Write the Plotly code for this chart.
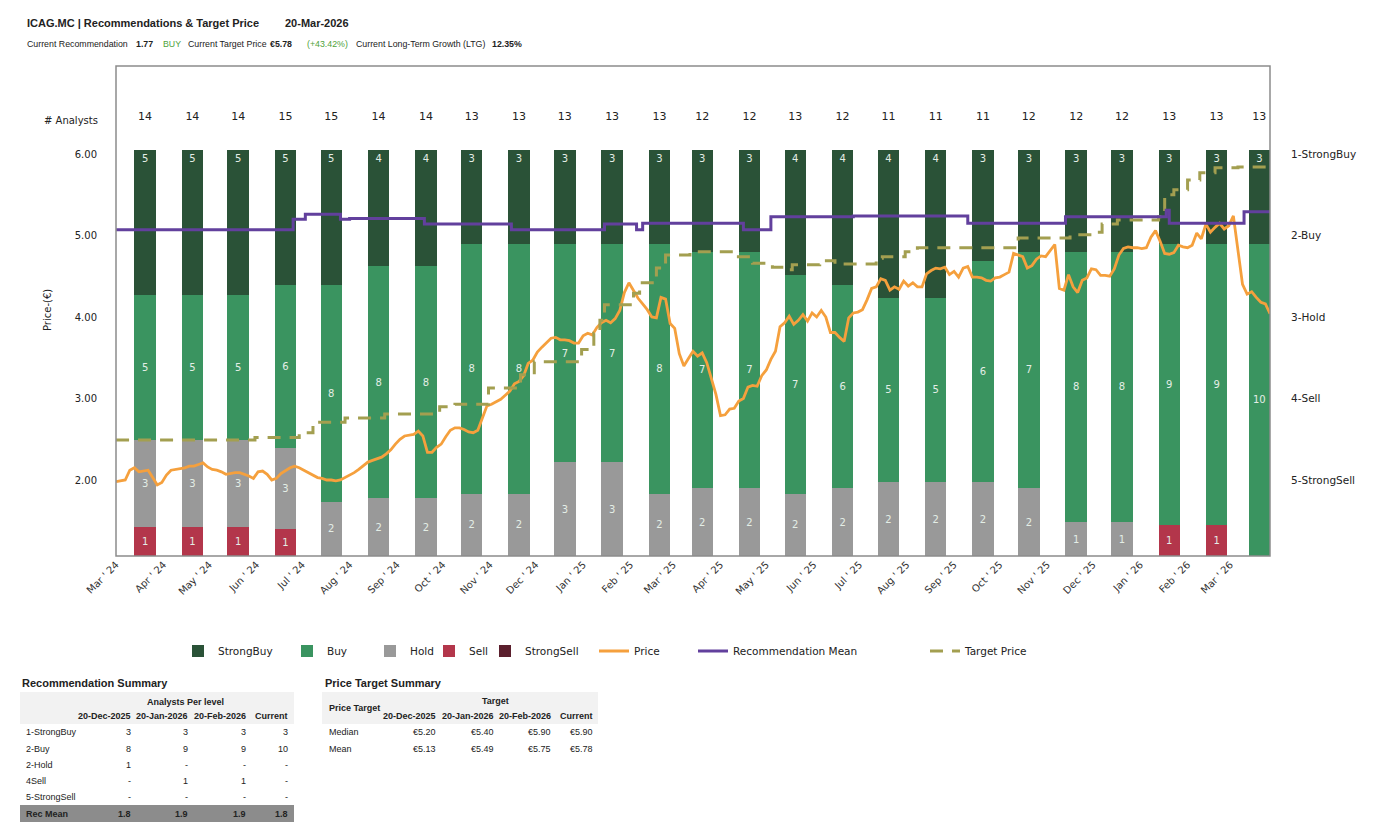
import plotly.graph_objects as go
import pandas as pd

W, H = 1377, 822
CF = "DejaVu Sans"
TF = "Liberation Sans"

# ---------------- data ----------------
bar_dates = [d + pd.Timedelta(days=19) for d in pd.date_range("2024-03-01", periods=25, freq="MS")]
strong_buy = [5, 5, 5, 5, 5, 4, 4, 3, 3, 3, 3, 3, 3, 3, 4, 4, 4, 4, 3, 3, 3, 3, 3, 3, 3]
buy = [5, 5, 5, 6, 8, 8, 8, 8, 8, 7, 7, 8, 7, 7, 7, 6, 5, 5, 6, 7, 8, 8, 9, 9, 10]
hold = [3, 3, 3, 3, 2, 2, 2, 2, 2, 3, 3, 2, 2, 2, 2, 2, 2, 2, 2, 2, 1, 1, 0, 0, 0]
sell = [1, 1, 1, 1, 0, 0, 0, 0, 0, 0, 0, 0, 0, 0, 0, 0, 0, 0, 0, 0, 0, 0, 1, 1, 0]
strong_sell = [0] * 25

price_start = "2024-03-01"
price = [
    1.98, 1.99, 2.00, 2.12, 2.15, 2.10, 2.11, 2.12, 2.03, 1.94,
    1.97, 2.06, 2.12, 2.13, 2.14, 2.15, 2.17, 2.17, 2.19, 2.21,
    2.16, 2.13, 2.12, 2.10, 2.07, 2.08, 2.09, 2.09, 2.07, 2.05,
    2.02, 2.10, 2.11, 2.07, 2.00, 2.02, 2.08, 2.12, 2.15, 2.17,
    2.15, 2.12, 2.09, 2.06, 2.03, 2.02, 2.00, 2.00, 1.99, 2.00,
    2.03, 2.05, 2.09, 2.13, 2.17, 2.22, 2.24, 2.26, 2.28, 2.32,
    2.37, 2.44, 2.50, 2.54, 2.55, 2.56, 2.60, 2.54, 2.34, 2.34,
    2.40, 2.44, 2.53, 2.61, 2.64, 2.64, 2.62, 2.59, 2.58, 2.61,
    2.76, 2.91, 2.93, 2.96, 2.99, 3.04, 3.09, 3.18, 3.21, 3.28,
    3.43, 3.47, 3.57, 3.63, 3.68, 3.74, 3.75, 3.72, 3.72, 3.71,
    3.68, 3.68, 3.77, 3.80, 3.78, 3.87, 3.93, 3.96, 3.93, 3.98,
    4.08, 4.30, 4.42, 4.33, 4.23, 4.16, 4.09, 4.00, 3.99, 4.24,
    4.22, 3.92, 3.86, 3.55, 3.40, 3.49, 3.58, 3.52, 3.56, 3.44,
    3.23, 3.05, 2.79, 2.80, 2.87, 2.88, 2.97, 3.00, 3.14, 3.16,
    3.15, 3.28, 3.35, 3.48, 3.58, 3.88, 3.93, 4.01, 3.91, 3.96,
    4.03, 3.95, 4.05, 4.00, 4.08, 4.00, 3.81, 3.81, 3.75, 3.70,
    3.99, 4.05, 4.06, 4.09, 4.21, 4.35, 4.37, 4.47, 4.45, 4.33,
    4.37, 4.34, 4.44, 4.38, 4.42, 4.37, 4.37, 4.53, 4.57, 4.60,
    4.59, 4.61, 4.52, 4.56, 4.49, 4.60, 4.62, 4.49, 4.49, 4.48,
    4.45, 4.44, 4.48, 4.49, 4.52, 4.55, 4.78, 4.76, 4.74, 4.60,
    4.63, 4.71, 4.75, 4.74, 4.81, 4.89, 4.35, 4.33, 4.52, 4.37,
    4.30, 4.45, 4.48, 4.59, 4.58, 4.51, 4.51, 4.50, 4.59, 4.76,
    4.84, 4.86, 4.85, 4.85, 4.84, 4.85, 4.98, 5.06, 4.93, 4.78,
    4.77, 4.79, 4.88, 4.86, 4.85, 4.88, 5.03, 4.96, 5.14, 5.04,
    5.10, 5.15, 5.08, 5.12, 5.24, 4.84, 4.40, 4.28, 4.31, 4.24,
    4.18, 4.16, 4.04,
]
price_dates = pd.date_range(price_start, periods=len(price), freq="3D")

rec_dates = ["2024-03-01", "2024-06-25", "2024-07-03", "2024-07-26", "2024-08-01",
             "2024-09-19", "2024-11-15", "2025-01-15", "2025-02-05", "2025-02-09",
             "2025-04-16", "2025-05-04", "2025-06-27", "2025-09-10", "2025-11-13",
             "2026-01-18", "2026-01-20", "2026-03-10", "2026-03-27"]
rec_mean = [1.93, 1.80, 1.74, 1.80, 1.79, 1.86, 1.93, 1.86, 1.93, 1.85,
            1.93, 1.77, 1.76, 1.85, 1.77, 1.69, 1.85, 1.71, 1.71]

target_dates = ["2024-03-01", "2024-05-31", "2024-06-29", "2024-07-08", "2024-07-29",
                "2024-08-24", "2024-09-29", "2024-10-09", "2024-10-31", "2024-11-21",
                "2024-11-30", "2024-12-31", "2025-01-08", "2025-01-12", "2025-01-15",
                "2025-02-03", "2025-02-07", "2025-02-18", "2025-02-24", "2025-03-12",
                "2025-04-10", "2025-04-22", "2025-05-05", "2025-05-14", "2025-05-18",
                "2025-06-05", "2025-06-15", "2025-07-12", "2025-07-16", "2025-07-31",
                "2025-08-08", "2025-10-13", "2025-11-16", "2025-11-29", "2025-12-07",
                "2025-12-17", "2026-01-13", "2026-01-17", "2026-01-23", "2026-02-01",
                "2026-02-09", "2026-02-19", "2026-03-06", "2026-03-27"]
target = [2.49, 2.52, 2.58, 2.71, 2.76, 2.81, 2.90, 2.93, 3.13, 3.29,
          3.45, 3.60, 3.80, 3.96, 4.15, 4.29, 4.42, 4.60, 4.76, 4.80,
          4.74, 4.66, 4.61, 4.58, 4.64, 4.69, 4.65, 4.72, 4.74, 4.80,
          4.85, 4.97, 5.01, 5.04, 5.14, 5.19, 5.23, 5.50, 5.56, 5.68,
          5.77, 5.83, 5.84, 5.84]

price_ticks = [2, 3, 4, 5, 6]
rec_levels = ["1-StrongBuy", "2-Buy", "3-Hold", "4-Sell", "5-StrongSell"]

header_title = "ICAG.MC | Recommendations & Target Price"
header_date = "20-Mar-2026"
header_items = [("Current Recommendation", False, "#222222"), ("1.77", True, "#222222"),
                ("BUY", False, "#4fa33a"), ("Current Target Price", False, "#222222"),
                ("€5.78", True, "#222222"), ("(+43.42%)", False, "#4fa33a"),
                ("Current Long-Term Growth (LTG)", False, "#222222"), ("12.35%", True, "#222222")]

rec_tbl_title = "Recommendation Summary"
rec_tbl_group = "Analysts Per level"
tbl_cols = ["20-Dec-2025", "20-Jan-2026", "20-Feb-2026", "Current"]
rec_tbl_rows = ["1-StrongBuy", "2-Buy", "2-Hold", "4Sell", "5-StrongSell"]
rec_tbl_vals = [["3", "3", "3", "3"], ["8", "9", "9", "10"], ["1", "-", "-", "-"],
                ["-", "1", "1", "-"], ["-", "-", "-", "-"]]
rec_tbl_mean_label = "Rec Mean"
rec_tbl_mean = ["1.8", "1.9", "1.9", "1.8"]

pt_tbl_title = "Price Target Summary"
pt_tbl_group = "Target"
pt_tbl_corner = "Price Target"
pt_tbl_rows = ["Median", "Mean"]
pt_tbl_vals = [["€5.20", "€5.40", "€5.90", "€5.90"], ["€5.13", "€5.49", "€5.75", "€5.78"]]

# ---------------- helpers ----------------
def px(x):
    return x / W


def py(y):
    return 1 - y / H


fig = go.Figure()

legend_ids = {"StrongBuy": "legend", "Buy": "legend2", "Hold": "legend3", "Sell": "legend4",
              "StrongSell": "legend5", "Price": "legend6", "Recommendation Mean": "legend7",
              "Target Price": "legend8"}
legend_center = {"StrongBuy": 198, "Buy": 307, "Hold": 390, "Sell": 449, "StrongSell": 505,
                 "Price": 614, "Recommendation Mean": 713, "Target Price": 945}

bar_series = [("StrongSell", strong_sell, "#5b1f2d"), ("Sell", sell, "#b3364b"),
              ("Hold", hold, "#999999"), ("Buy", buy, "#3a9460"), ("StrongBuy", strong_buy, "#2a5237")]
DAY_MS = 86400000
for name, vals, col in bar_series:
    fig.add_trace(go.Bar(
        x=bar_dates, y=vals, name=name,
        marker=dict(color=col, line=dict(width=0)),
        width=[14 * DAY_MS] * len(vals),
        text=[str(v) if v else "" for v in vals],
        textposition="inside",
        insidetextanchor="end" if name == "StrongBuy" else "middle",
        textangle=0,
        textfont=dict(family=CF, size=10, color="#e4eee6"),
        legend=legend_ids[name], hoverinfo="skip",
    ))

totals = [a + b + c + d + e for a, b, c, d, e in zip(strong_buy, buy, hold, sell, strong_sell)]
fig.add_trace(go.Scatter(
    x=bar_dates, y=[108.1] * len(totals), mode="text", text=[str(t) for t in totals],
    textfont=dict(family=CF, size=11, color="#222222"), showlegend=False, hoverinfo="skip",
))

fig.add_trace(go.Scatter(
    x=price_dates, y=price, yaxis="y2", mode="lines", name="Price",
    line=dict(color="#f5a03d", width=2.8), legend=legend_ids["Price"], hoverinfo="skip",
))
fig.add_trace(go.Scatter(
    x=target_dates, y=target, yaxis="y2", mode="lines", name="Target Price",
    line=dict(color="#a39f50", width=3, dash="13px,9px", shape="hv"),
    legend=legend_ids["Target Price"], hoverinfo="skip",
))
fig.add_trace(go.Scatter(
    x=rec_dates, y=rec_mean, yaxis="y3", mode="lines", name="Recommendation Mean",
    line=dict(color="#62409d", width=3, shape="hv"),
    legend=legend_ids["Recommendation Mean"], hoverinfo="skip",
))

# ---------------- layout ----------------
legends = {}
for name, lid in legend_ids.items():
    legends[lid] = dict(x=px(legend_center[name] - 20), xanchor="left", y=py(651), yanchor="middle",
                        orientation="h", bgcolor="rgba(0,0,0,0)", borderwidth=0,
                        font=dict(family=CF, size=10.5, color="#222222"))

fig.update_layout(
    width=W, height=H, autosize=False,
    margin=dict(l=0, r=0, t=0, b=0, autoexpand=False),
    paper_bgcolor="white", plot_bgcolor="white",
    barmode="stack", barnorm="percent",
    xaxis=dict(domain=[px(116), px(1270)], type="date",
               range=["2024-02-29 23:00", "2026-03-27"],
               tick0="2024-03-01", dtick="M1", tickformat="%b ' %y", tickangle=-45,
               showgrid=False, zeroline=False, showline=False, ticks="", automargin=False,
               tickfont=dict(family=CF, size=10, color="#333333")),
    yaxis=dict(domain=[py(556), py(66)], range=[0, 120.69], visible=False,
               showgrid=False, zeroline=False),
    yaxis2=dict(overlaying="y", side="left", range=[1.0675, 7.0798], tickvals=price_ticks,
                tickformat=".2f", showgrid=False, zeroline=False, showline=False, ticks="",
                automargin=False,
                ticklabelstandoff=18, tickfont=dict(family=CF, size=10, color="#222222")),
    yaxis3=dict(overlaying="y", side="right", range=[5.9325, -0.0798], tickvals=[1, 2, 3, 4, 5],
                ticktext=rec_levels, showgrid=False, zeroline=False, showline=False, ticks="",
                automargin=False,
                ticklabelstandoff=20, tickfont=dict(family=CF, size=10.5, color="#222222")),
    showlegend=True,
    **legends,
)

shapes = [dict(type="rect", xref="x domain", yref="y domain", x0=0, x1=1, y0=0, y1=1,
               line=dict(color="#8c8c8c", width=1.5), fillcolor="rgba(0,0,0,0)", layer="above")]
# table bands
shapes.append(dict(type="rect", xref="paper", yref="paper", x0=px(20), x1=px(294), y0=py(724), y1=py(692),
                   line=dict(width=0), fillcolor="#f2f2f2", layer="below"))
shapes.append(dict(type="rect", xref="paper", yref="paper", x0=px(20), x1=px(294), y0=py(822), y1=py(805),
                   line=dict(width=0), fillcolor="#8c8c8c", layer="below"))
shapes.append(dict(type="rect", xref="paper", yref="paper", x0=px(322), x1=px(598), y0=py(724), y1=py(692),
                   line=dict(width=0), fillcolor="#f2f2f2", layer="below"))

ann = []


def txt(x, y, s, size=9, bold=False, color="#222222", xanchor="left", family=TF, angle=0):
    ann.append(dict(x=px(x), y=py(y), xref="paper", yref="paper", text=f"<b>{s}</b>" if bold else s,
                    showarrow=False, xanchor=xanchor, yanchor="middle", textangle=angle,
                    font=dict(family=family, size=size, color=color)))


# header
txt(25, 23, header_title, size=11, bold=True)
txt(283, 23, header_date, size=11, bold=True)
header_x = [25, 134, 161, 186, 268, 305, 354, 490]
for (s, b, c), x in zip(header_items, header_x):
    txt(x, 44, s, size=8.8, bold=b, color=c)

# axis annotations
txt(100, 121, "# Analysts", size=10, xanchor="right", family=CF)
txt(47, 310, "Price-(€)", size=10, xanchor="center", family=CF, angle=-90)

# recommendation table
txt(20, 683, rec_tbl_title, size=11, bold=True)
txt(185, 702, rec_tbl_group, size=9, bold=True, xanchor="center")
rec_col_x = [133, 190, 248, 290]
for c, x in zip(tbl_cols, rec_col_x):
    txt(x, 716, c, size=9, bold=True, xanchor="right")
rec_row_y = [732, 748.5, 765, 781, 797]
for r, vals, y in zip(rec_tbl_rows, rec_tbl_vals, rec_row_y):
    txt(24, y, r, size=9)
    for v, x in zip(vals, rec_col_x):
        txt(x, y, v, size=9, xanchor="right")
txt(24, 814, rec_tbl_mean_label, size=9, bold=True)
for v, x in zip(rec_tbl_mean, rec_col_x):
    txt(x, 814, v, size=9, bold=True, xanchor="right")

# price target table
txt(323, 683, pt_tbl_title, size=11, bold=True)
txt(495, 701, pt_tbl_group, size=9, bold=True, xanchor="center")
txt(327, 708, pt_tbl_corner, size=9, bold=True)
pt_col_x = [438, 496, 553, 595]
for c, x in zip(tbl_cols, pt_col_x):
    txt(x, 716, c, size=9, bold=True, xanchor="right")
pt_row_y = [732, 748.5]
for r, vals, y in zip(pt_tbl_rows, pt_tbl_vals, pt_row_y):
    txt(327, y, r, size=9)
    for v, x in zip(vals, pt_col_x):
        txt(x, y, v, size=9, xanchor="right")

fig.update_layout(shapes=shapes, annotations=ann)

fig.write_html("out.html", include_plotlyjs=True, config={"displayModeBar": False},
               post_script="document.body.style.margin='0';document.body.style.overflow='hidden';")
